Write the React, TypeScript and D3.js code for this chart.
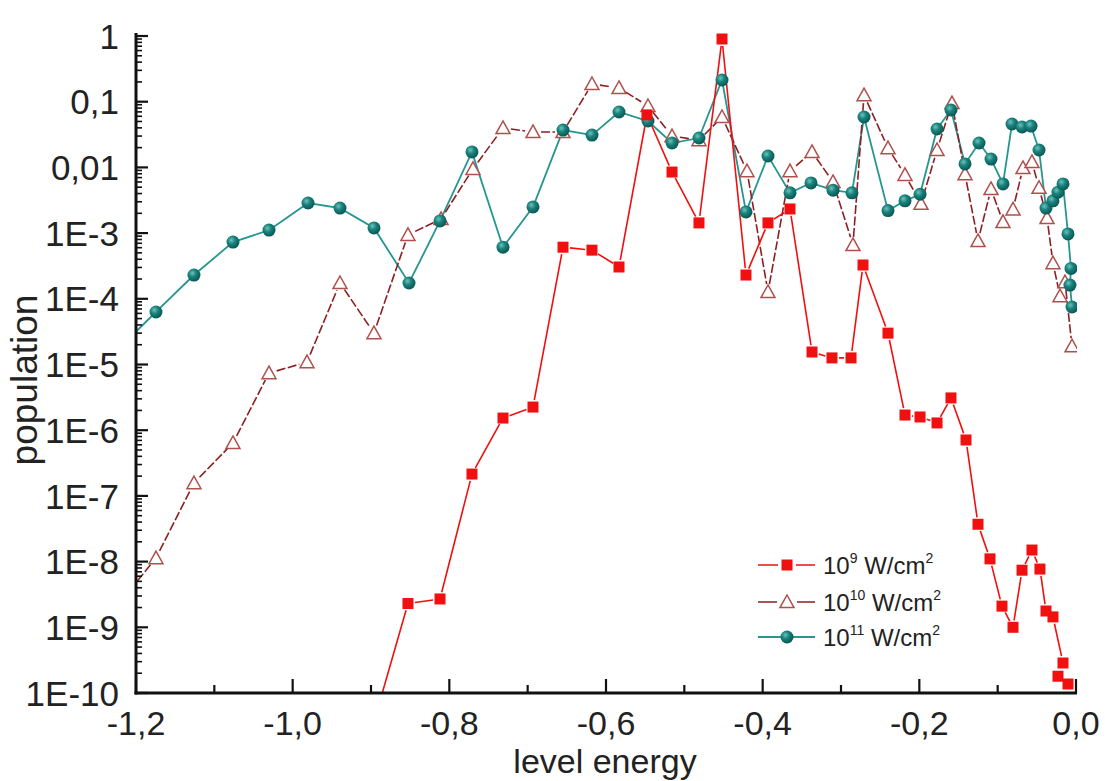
import React from 'react';
import * as d3 from 'd3';

// Level populations vs. level energy for three laser intensities
const energy9 = [-0.901, -0.8528, -0.8119, -0.7711, -0.7315, -0.6932, -0.6549, -0.6179, -0.5834, -0.5477, -0.5157, -0.4813, -0.4519, -0.4213, -0.3932, -0.3651, -0.337, -0.3115, -0.2872, -0.2719, -0.24, -0.2183, -0.1991, -0.1774, -0.1596, -0.1404, -0.1251, -0.1098, -0.0945, -0.0804, -0.0689, -0.0562, -0.046, -0.0383, -0.0294, -0.0166, -0.023, -0.0102];
const pop9 = [2.3e-11, 2.3e-9, 2.7e-9, 2.15e-7, 1.53e-6, 2.25e-6, 6.1e-4, 5.5e-4, 3.05e-4, 0.063, 8.5e-3, 1.43e-3, 0.9, 2.3e-4, 1.43e-3, 2.33e-3, 1.55e-5, 1.26e-5, 1.26e-5, 3.27e-4, 3.0e-5, 1.7e-6, 1.59e-6, 1.29e-6, 3.1e-6, 7.1e-7, 3.7e-8, 1.1e-8, 2.1e-9, 1.0e-9, 7.4e-9, 1.5e-8, 7.7e-9, 1.77e-9, 1.44e-9, 2.86e-10, 1.8e-10, 1.37e-10];

const energy10 = [-1.223, -1.1745, -1.126, -1.0762, -1.0302, -0.9817, -0.9396, -0.8962, -0.8528, -0.8106, -0.7698, -0.7315, -0.6932, -0.6549, -0.6179, -0.5834, -0.5464, -0.5157, -0.4813, -0.4519, -0.42, -0.3932, -0.3651, -0.337, -0.3102, -0.2847, -0.2706, -0.24, -0.2183, -0.1979, -0.1774, -0.1583, -0.1417, -0.1251, -0.1085, -0.0932, -0.0804, -0.0677, -0.0562, -0.0472, -0.037, -0.0294, -0.0204, -0.014, -0.0051];
const pop10 = [2.2e-9, 1.13e-8, 1.57e-7, 6.4e-7, 7.4e-6, 1.09e-5, 1.74e-4, 3.0e-5, 9.4e-4, 1.64e-3, 9.5e-3, 0.0398, 0.0346, 0.0346, 0.186, 0.162, 0.086, 0.03, 0.026, 0.0585, 8.8e-3, 1.27e-4, 8.8e-3, 0.0172, 6.0e-3, 6.6e-4, 0.126, 0.0197, 7.7e-3, 2.8e-3, 0.0184, 0.0955, 7.9e-3, 7.6e-4, 4.7e-3, 1.48e-3, 2.3e-3, 9.8e-3, 0.0121, 4.9e-3, 1.7e-3, 3.5e-4, 1.1e-4, 1.8e-4, 1.9e-5];

const energy11 = [-1.223, -1.1745, -1.126, -1.0762, -1.0302, -0.9804, -0.9396, -0.8962, -0.8515, -0.8119, -0.7711, -0.7315, -0.6932, -0.6549, -0.6179, -0.5834, -0.5464, -0.5157, -0.4813, -0.4519, -0.4213, -0.3932, -0.3651, -0.3383, -0.3102, -0.286, -0.2706, -0.24, -0.2183, -0.1991, -0.1774, -0.1596, -0.1417, -0.1238, -0.1085, -0.0932, -0.0817, -0.0689, -0.0574, -0.0472, -0.0383, -0.0294, -0.023, -0.0166, -0.0102, -0.0064, -0.0077, -0.0051];
const pop11 = [1.7e-5, 6.3e-5, 2.3e-4, 7.3e-4, 1.11e-3, 2.87e-3, 2.4e-3, 1.2e-3, 1.74e-4, 1.53e-3, 0.0172, 6.1e-4, 2.5e-3, 0.037, 0.031, 0.0697, 0.0508, 0.0235, 0.028, 0.214, 2.1e-3, 0.0149, 4.1e-3, 5.8e-3, 4.5e-3, 4.1e-3, 0.0585, 2.2e-3, 3.1e-3, 3.9e-3, 0.0384, 0.0748, 0.0113, 0.0235, 0.0134, 5.6e-3, 0.0458, 0.0412, 0.0425, 0.0184, 2.4e-3, 3.1e-3, 4.2e-3, 5.6e-3, 9.7e-4, 2.9e-4, 1.62e-4, 7.5e-5];

const seriesLabels = ['9', '10', '11'];
const xTickValues = [-1.2, -1.0, -0.8, -0.6, -0.4, -0.2, 0.0];
const xTickLabels = ['-1,2', '-1,0', '-0,8', '-0,6', '-0,4', '-0,2', '0,0'];
const yTickExps = [0, -1, -2, -3, -4, -5, -6, -7, -8, -9, -10];
const yTickLabels = ['1', '0,1', '0,01', '1E-3', '1E-4', '1E-5', '1E-6', '1E-7', '1E-8', '1E-9', '1E-10'];

const W = 1105;
const H = 781;
const left = 136;
const right = 1076;
const top = 36;
const bottom = 693;

const RED = '#f01010';
const BROWN_LINE = '#8e1f22';
const BROWN_MARK = '#b0504c';
const TEAL = '#259690';
const FONT = '"Liberation Sans", Arial, Helvetica, sans-serif';

type P = [number, number];

// segments between consecutive points, trimmed so the line stops short of each symbol
function gappedPath(pts: P[], gap: number): string {
  let d = '';
  for (let i = 0; i < pts.length - 1; i++) {
    const [x0, y0] = pts[i];
    const [x1, y1] = pts[i + 1];
    const dx = x1 - x0;
    const dy = y1 - y0;
    const len = Math.hypot(dx, dy);
    if (len <= gap * 2 + 0.5) continue;
    const ux = dx / len;
    const uy = dy / len;
    d += `M${x0 + ux * gap},${y0 + uy * gap}L${x1 - ux * gap},${y1 - uy * gap}`;
  }
  return d;
}

export default function App() {
  const x = d3.scaleLinear().domain([-1.2, 0]).range([left, right]);
  const y = d3.scaleLog().domain([1e-10, 1]).range([bottom, top]);

  const pts9: P[] = energy9.map((e, i) => [x(e), y(pop9[i])]);
  const pts10: P[] = energy10.map((e, i) => [x(e), y(pop10[i])]);
  const pts11: P[] = energy11.map((e, i) => [x(e), y(pop11[i])]);

  const line = d3.line<P>().x((d) => d[0]).y((d) => d[1]);

  const minorY: number[] = [];
  for (let e = -10; e < 0; e++) {
    for (let k = 2; k <= 9; k++) minorY.push(k * Math.pow(10, e));
  }
  const minorX = d3.range(-1.1, 0, 0.2);

  const sq = 11;
  const tri = (cx: number, cy: number) => {
    const s = 7;
    return `M${cx},${cy - s}L${cx + s},${cy + s * 0.8}L${cx - s},${cy + s * 0.8}Z`;
  };

  const legendRows = [565, 602, 637];
  const lx0 = 758;
  const lx1 = 815;
  const lmx = 787;

  return (
    <svg width={W} height={H} style={{ position: 'absolute', left: 0, top: 0, background: '#fff' }} fontFamily={FONT}>
      <defs>
        <clipPath id="plotArea">
          <rect x={left} y={0} width={right - left + 1} height={bottom} />
        </clipPath>
        <radialGradient id="ball" cx="38%" cy="35%" r="65%">
          <stop offset="0%" stopColor="#6cc4bc" />
          <stop offset="45%" stopColor="#1a827c" />
          <stop offset="100%" stopColor="#0a5855" />
        </radialGradient>
      </defs>

      <g clipPath="url(#plotArea)">
        {/* 10^11 series */}
        <path d={line(pts11) || ''} fill="none" stroke={TEAL} strokeWidth={1.8} />
        {/* 10^10 series */}
        <path d={gappedPath(pts10, 8)} fill="none" stroke={BROWN_LINE} strokeWidth={1.6} strokeDasharray="9 2.5" />
        {/* 10^9 series */}
        <path d={gappedPath(pts9, 7)} fill="none" stroke={RED} strokeWidth={1.6} />

        {pts10.map((p, i) => (
          <path key={'t' + i} d={tri(p[0], p[1])} fill="#fff" stroke={BROWN_MARK} strokeWidth={1.5} />
        ))}
        {pts11.map((p, i) => (
          <circle key={'c' + i} cx={p[0]} cy={p[1]} r={6.5} fill="url(#ball)" />
        ))}
        {pts9.map((p, i) => (
          <rect key={'s' + i} x={p[0] - sq / 2} y={p[1] - sq / 2} width={sq} height={sq} fill={RED} />
        ))}
      </g>

      {/* axes */}
      <g stroke="#111" strokeWidth={3} fill="none">
        <line x1={left} y1={33} x2={left} y2={bottom + 1.5} />
        <line x1={left - 1.5} y1={bottom} x2={right + 1} y2={bottom} />
      </g>
      <g stroke="#111" strokeWidth={2.2}>
        {yTickExps.map((e) => (
          <line key={'ym' + e} x1={left} x2={left + 12} y1={y(Math.pow(10, e))} y2={y(Math.pow(10, e))} />
        ))}
        {minorY.map((v, i) => (
          <line key={'yn' + i} x1={left} x2={left + 6} y1={y(v)} y2={y(v)} strokeWidth={1.6} />
        ))}
        {xTickValues.map((v) => (
          <line key={'xm' + v} x1={x(v)} x2={x(v)} y1={bottom} y2={bottom - 14} />
        ))}
        {minorX.map((v, i) => (
          <line key={'xn' + i} x1={x(v)} x2={x(v)} y1={bottom} y2={bottom - 8} />
        ))}
      </g>

      {/* tick labels */}
      <g fill="#222" fontSize={35}>
        {yTickExps.map((e, i) => (
          <text key={'yl' + e} x={119} y={y(Math.pow(10, e))} dy="0.36em" textAnchor="end">
            {yTickLabels[i]}
          </text>
        ))}
        {xTickValues.map((v, i) => (
          <text key={'xl' + v} x={x(v)} y={735} fontSize={34} textAnchor="middle">
            {xTickLabels[i]}
          </text>
        ))}
      </g>

      {/* axis titles */}
      <text x={605} y={773} fontSize={34} fill="#222" textAnchor="middle">level energy</text>
      <text transform="translate(37,380) rotate(-90)" fontSize={37} fill="#222" textAnchor="middle">population</text>

      {/* legend */}
      <g>
        <path d={`M${lx0},${legendRows[0]}L${lmx - 9},${legendRows[0]}M${lmx + 9},${legendRows[0]}L${lx1},${legendRows[0]}`} stroke={RED} strokeWidth={1.6} />
        <rect x={lmx - sq / 2} y={legendRows[0] - sq / 2} width={sq} height={sq} fill={RED} />
        <path d={`M${lx0},${legendRows[1]}L${lmx - 10},${legendRows[1]}M${lmx + 10},${legendRows[1]}L${lx1},${legendRows[1]}`} stroke={BROWN_LINE} strokeWidth={1.6} />
        <path d={tri(lmx, legendRows[1])} fill="#fff" stroke={BROWN_MARK} strokeWidth={1.5} />
        <line x1={lx0} x2={lx1} y1={legendRows[2]} y2={legendRows[2]} stroke={TEAL} strokeWidth={1.8} />
        <circle cx={lmx} cy={legendRows[2]} r={6.5} fill="url(#ball)" />
        {seriesLabels.map((s, i) => (
          <text key={'lg' + s} x={823} y={legendRows[i] + 9} fontSize={24} fill="#222">
            10
            <tspan dy={-11} fontSize={14}>{s}</tspan>
            <tspan dy={11}> W/cm</tspan>
            <tspan dy={-11} fontSize={14}>2</tspan>
          </text>
        ))}
      </g>
    </svg>
  );
}
